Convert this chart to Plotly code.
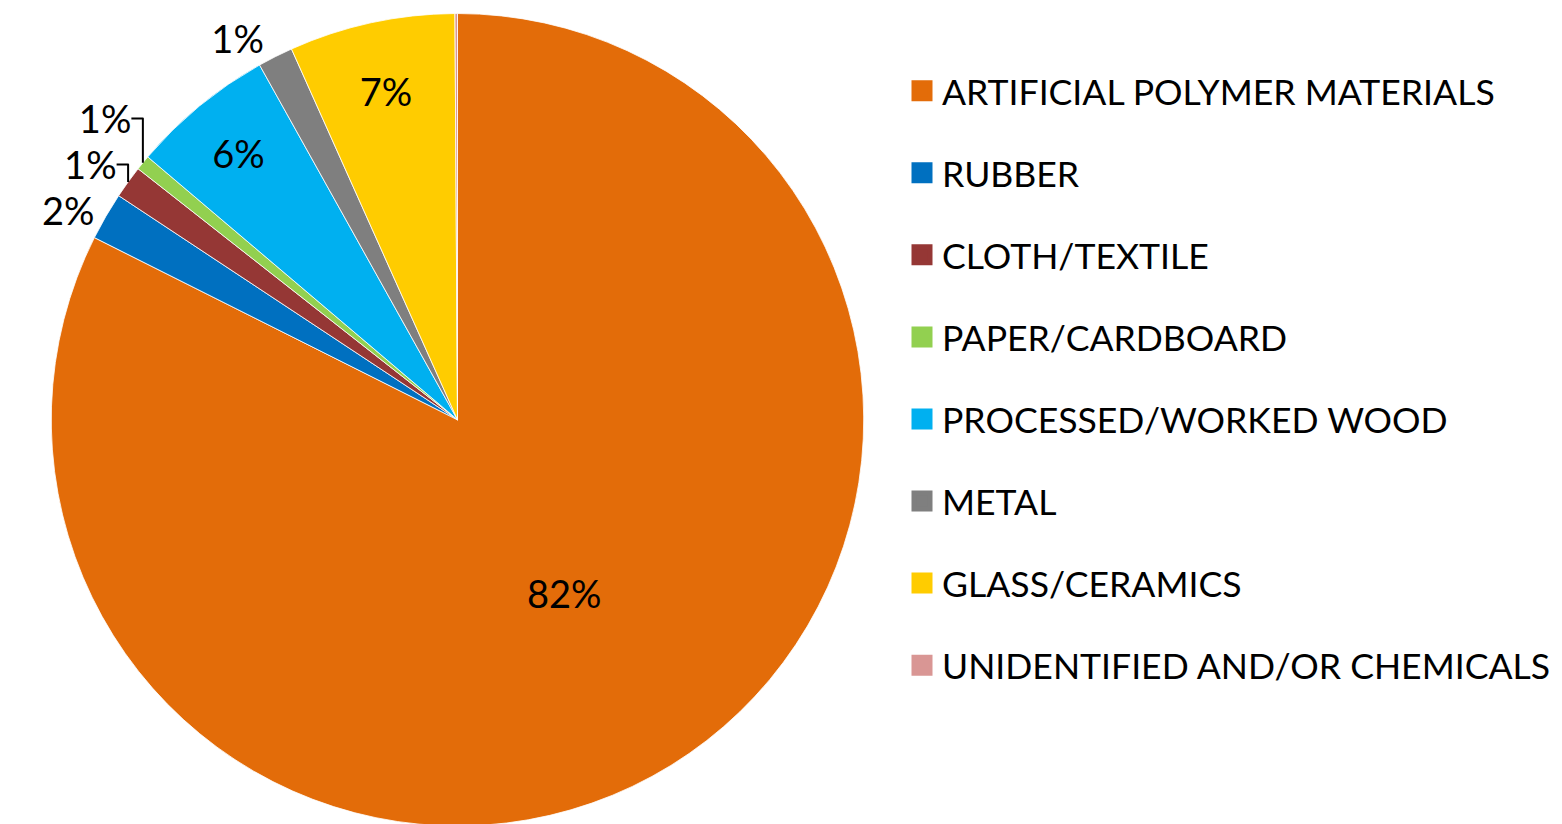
import plotly.graph_objects as go

categories = ["ARTIFICIAL POLYMER MATERIALS", "RUBBER", "CLOTH/TEXTILE", "PAPER/CARDBOARD",
              "PROCESSED/WORKED WOOD", "METAL", "GLASS/CERAMICS", "UNIDENTIFIED AND/OR CHEMICALS"]
values = [82.4, 1.9, 1.3, 0.6, 5.7, 1.4, 6.6, 0.1]
colors = ["#E36C09", "#0070C0", "#953735", "#92D050", "#00B0F0", "#7F7F7F", "#FFCC00", "#D99694"]
label_pos = ["inside", "outside", "outside", "outside", "inside", "outside", "inside", "none"]
label_tmpl = ["%{percent:.0%}"] * 7 + [""]

FONT = "Lato, Carlito, Calibri, sans-serif"
FS = 38
LFS = 35.6

fig = go.Figure()
fig.add_trace(go.Pie(
    labels=categories, values=values, sort=False, direction="clockwise", rotation=0,
    marker=dict(colors=colors, line=dict(color="white", width=0.8)),
    texttemplate=label_tmpl, textposition=label_pos,
    insidetextorientation="horizontal",
    textfont=dict(family=FONT, size=FS, color="black"),
    outsidetextfont=dict(family=FONT, size=FS, color="black"),
    insidetextfont=dict(family=FONT, size=FS, color="black"),
    showlegend=False, hoverinfo="label+percent",
    domain=dict(x=[43/1562, 856/1562], y=[0.0073, 0.9933]),
))

for name, c in zip(categories, colors):
    fig.add_trace(go.Scatter(
        x=[None], y=[None], mode="markers", name=name, legendgroup=name,
        marker=dict(symbol="square", size=16, color=c, line=dict(color=c, width=5)),
    ))

fig.update_layout(
    width=1562, height=824,
    margin=dict(l=0, r=0, t=0, b=0, autoexpand=False),
    paper_bgcolor="white", plot_bgcolor="white",
    xaxis=dict(visible=False), yaxis=dict(visible=False),
    font=dict(family=FONT, size=FS, color="black"),
    legend=dict(x=894/1562, xanchor="left", y=1 - 53/824, yanchor="top",
                font=dict(family=FONT, size=LFS, color="black"),
                tracegroupgap=32.8, bgcolor="rgba(0,0,0,0)"),
)

fig.write_html("out.html")
